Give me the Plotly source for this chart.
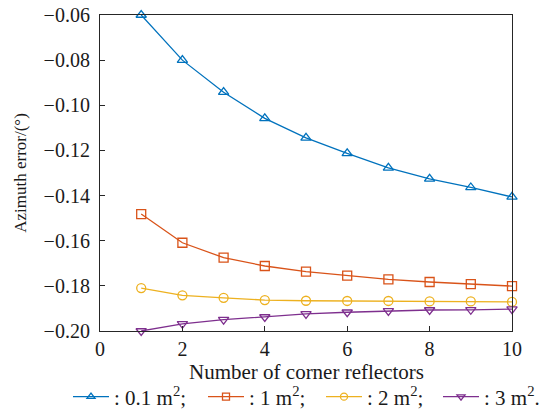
import plotly.graph_objects as go

# Number of corner reflectors
n_reflectors = [1, 2, 3, 4, 5, 6, 7, 8, 9, 10]

# Azimuth error (degrees) for each reflector RCS
err_01 = [-0.0600, -0.0800, -0.0942, -0.1058, -0.1144, -0.1213, -0.1277, -0.1326, -0.1364, -0.1406]
err_1 = [-0.1482, -0.1609, -0.1675, -0.1712, -0.1737, -0.1755, -0.1771, -0.1783, -0.1792, -0.1801]
err_2 = [-0.1810, -0.1842, -0.1853, -0.1863, -0.1866, -0.1867, -0.1867, -0.1869, -0.1869, -0.1871]
err_3 = [-0.2000, -0.1968, -0.1950, -0.1938, -0.1924, -0.1917, -0.1911, -0.1907, -0.1906, -0.1903]

labels = [": 0.1 m<sup>2</sup>;", ": 1 m<sup>2</sup>;", ": 2 m<sup>2</sup>;", ": 3 m<sup>2</sup>."]
colors = ["#0072BD", "#D95319", "#EDB120", "#7E2F8E"]
symbols = ["triangle-up-open", "square-open", "circle-open", "triangle-down-open"]

x_ticks = [0, 2, 4, 6, 8, 10]
y_ticks = [-0.20, -0.18, -0.16, -0.14, -0.12, -0.10, -0.08, -0.06]
x_title = "Number of corner reflectors"
y_title = "Azimuth error/(°)"

font_family = "Liberation Serif"
axis_color = "#262626"
text_color = "#1a1a1a"
W, H = 552, 410
M_L, M_R, M_T, M_B = 100, 40, 15, 79
plot_h = H - M_T - M_B

# one legend box per series, laid out in a single row under the axis title
legend_ids = ["legend2", "legend3", "legend4", "legend5"]
legend_left_px = [68, 203, 321, 438]

fig = go.Figure()
for ys, name, c, s, lid in zip([err_01, err_1, err_2, err_3], labels, colors, symbols, legend_ids):
    fig.add_trace(go.Scatter(
        x=n_reflectors, y=ys, mode="lines+markers", showlegend=False,
        line=dict(color=c, width=1.3),
        marker=dict(symbol=s, size=9, color=c, line=dict(color=c, width=1.3)),
        cliponaxis=False,
    ))
    # legend entry with a smaller marker glyph
    fig.add_trace(go.Scatter(
        x=[None], y=[None], name=name, mode="lines+markers", legend=lid,
        showlegend=True,
        line=dict(color=c, width=1.3),
        marker=dict(symbol=s, size=7, color=c, line=dict(color=c, width=1.3)),
    ))

axis_common = dict(
    showgrid=False, zeroline=False, showline=True, linecolor=axis_color,
    linewidth=1.2, mirror=True, ticks="inside", ticklen=5, tickwidth=1,
    tickcolor=axis_color, automargin=False,
    tickfont=dict(family=font_family, size=20, color=text_color),
)

layout_legends = {}
for lid, left in zip(legend_ids, legend_left_px):
    layout_legends[lid] = dict(
        orientation="h", xref="container", yref="container",
        x=left / W, xanchor="left", y=(H - 397) / H, yanchor="middle",
        font=dict(family=font_family, size=21, color=text_color), itemwidth=36,
        bgcolor="rgba(0,0,0,0)",
    )

fig.update_layout(
    width=W, height=H, showlegend=True,
    margin=dict(l=M_L, r=M_R, t=M_T, b=M_B),
    plot_bgcolor="white", paper_bgcolor="white",
    font=dict(family=font_family, size=20, color=text_color),
    xaxis=dict(range=[0, 10], tickvals=x_ticks, ticktext=[str(v) for v in x_ticks],
               **axis_common),
    yaxis=dict(range=[-0.20, -0.06], tickvals=y_ticks,
               ticktext=[f"\u2212{abs(v):.2f}" for v in y_ticks],
               ticklabelstandoff=5,
               title=dict(text=y_title,
                          font=dict(family=font_family, size=17), standoff=12),
               **axis_common),
    annotations=[dict(
        text=x_title, xref="paper", yref="paper", x=0.5, y=-41 / plot_h,
        xanchor="center", yanchor="middle", showarrow=False,
        font=dict(family=font_family, size=21, color=text_color),
    )],
    **layout_legends,
)

fig.write_html("out.html")
